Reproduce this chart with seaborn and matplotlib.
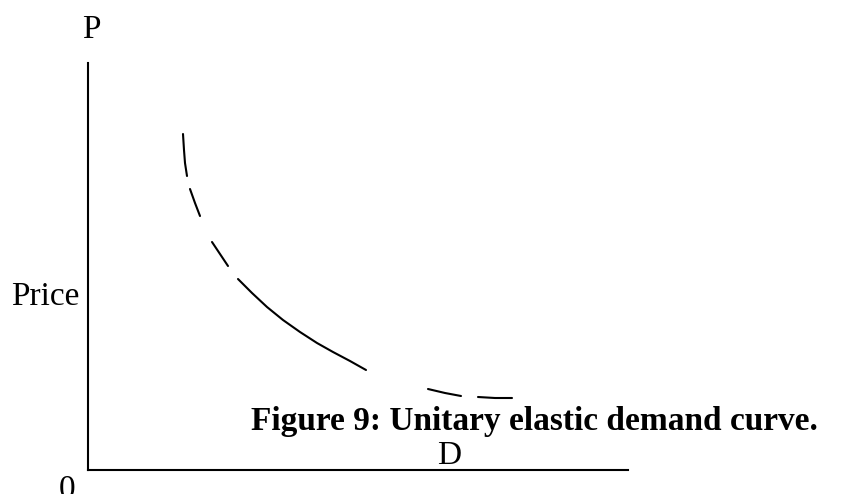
import pandas as pd
import matplotlib.pyplot as plt
import seaborn as sns

# Demand curve D, drawn as a hand-dashed line.
# Each segment is one dash of the curve (quantity, price).
seg_ids = [1, 1, 1, 1,
           2, 2, 2,
           3, 3, 3,
           4, 4, 4, 4, 4, 4, 4, 4, 4,
           5, 5, 5,
           6, 6, 6]
quantity = [95, 96, 97, 99,
            102, 107, 112,
            124, 132, 140,
            150, 164, 179, 195, 212, 229, 245, 262, 278,
            340, 357, 373,
            390, 407, 424]
price = [336, 320, 307, 294,
         281, 267, 254,
         228, 216, 204,
         191, 177, 163, 150, 138, 127, 118, 109, 100,
         81, 77, 74,
         73, 72, 72]

x_max = 540
y_max = 407

df = pd.DataFrame({'seg': seg_ids, 'Q': quantity, 'P': price})

sns.set_style('white')
plt.rcParams['font.family'] = ['Liberation Serif', 'DejaVu Serif']
plt.rcParams['text.color'] = 'black'

W, H = 841, 494
fig = plt.figure(figsize=(W / 100, H / 100), dpi=100)
ax = fig.add_axes([88 / W, (H - 470) / H, x_max / W, y_max / H])

sns.lineplot(data=df, x='Q', y='P', units='seg', estimator=None, sort=False,
             color='black', linewidth=1.5, ax=ax)

ax.set_xlim(0, x_max)
ax.set_ylim(0, y_max)
ax.set_xticks([])
ax.set_yticks([])
ax.set_xlabel('')
ax.set_ylabel('')
for side in ['top', 'right']:
    ax.spines[side].set_visible(False)
for side in ['left', 'bottom']:
    ax.spines[side].set_color('black')
    ax.spines[side].set_linewidth(1.5)
ax.patch.set_alpha(0)

fs = 24
fig.text(91 / W, (H - 38) / H, 'P', fontsize=fs, color='black',
         ha='center', va='baseline')
fig.text(79 / W, (H - 305) / H, 'Price', fontsize=fs, color='black',
         ha='right', va='baseline')
fig.text(251 / W, (H - 430) / H, 'Figure 9: Unitary elastic demand curve.',
         fontsize=fs, fontweight='bold', color='black', ha='left', va='baseline')
fig.text(449 / W, (H - 464) / H, 'D', fontsize=fs, color='black',
         ha='center', va='baseline')
fig.text(67 / W, (H - 498) / H, '0', fontsize=fs, color='black',
         ha='center', va='baseline')

fig.savefig('out.png', dpi=100)
